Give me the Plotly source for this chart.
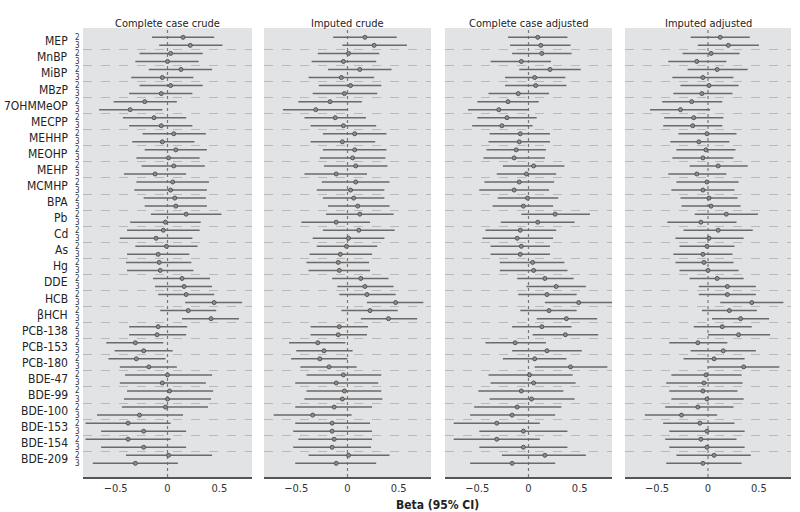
import plotly.graph_objects as go
from plotly.subplots import make_subplots

groups = ["MEP", "MnBP", "MiBP", "MBzP", "7OHMMeOP", "MECPP", "MEHHP", "MEOHP", "MEHP",
          "MCMHP", "BPA", "Pb", "Cd", "As", "Hg", "DDE", "HCB", "βHCH", "PCB-138",
          "PCB-153", "PCB-180", "BDE-47", "BDE-99", "BDE-100", "BDE-153", "BDE-154", "BDE-209"]
levels = ["2", "3"]
panel_titles = ["Complete case crude", "Imputed crude", "Complete case adjusted", "Imputed adjusted"]

est1 = [0.15,0.22, 0.03,0.00, 0.13,-0.05, 0.03,-0.06, -0.22,-0.36, -0.13,-0.06, 0.06,-0.05, 0.08,0.01, 0.06,-0.12, 0.05,0.03, 0.07,0.08, 0.18,-0.02, -0.04,-0.11, -0.01,-0.09, -0.08,-0.07, 0.14,0.16, 0.18,0.45, 0.20,0.42, -0.09,-0.10, -0.31,-0.23, -0.30,-0.18, 0.00,-0.05, 0.02,0.00, -0.02,-0.27, -0.38,-0.23, -0.38,-0.23, 0.01,-0.31]
lo1 = [-0.15,-0.08, -0.27,-0.31, -0.18,-0.35, -0.27,-0.37, -0.52,-0.66, -0.43,-0.37, -0.24,-0.34, -0.22,-0.30, -0.25,-0.42, -0.30,-0.32, -0.23,-0.22, -0.16,-0.36, -0.39,-0.46, -0.31,-0.39, -0.40,-0.39, -0.14,-0.12, -0.09,0.17, -0.07,0.14, -0.37,-0.37, -0.59,-0.51, -0.57,-0.46, -0.41,-0.46, -0.39,-0.42, -0.44,-0.68, -0.79,-0.64, -0.79,-0.64, -0.40,-0.72]
hi1 = [0.45,0.53, 0.34,0.30, 0.43,0.25, 0.34,0.24, 0.09,-0.05, 0.18,0.24, 0.37,0.26, 0.38,0.31, 0.36,0.18, 0.40,0.38, 0.37,0.38, 0.52,0.32, 0.31,0.24, 0.29,0.21, 0.23,0.25, 0.41,0.43, 0.45,0.72, 0.47,0.69, 0.19,0.18, -0.04,0.05, -0.02,0.09, 0.43,0.37, 0.44,0.42, 0.39,0.15, 0.03,0.18, 0.03,0.18, 0.43,0.10]

est2 = [0.17,0.26, 0.01,-0.04, 0.12,-0.06, 0.03,-0.03, -0.17,-0.31, -0.12,-0.04, 0.07,-0.05, 0.07,0.05, 0.08,-0.11, 0.08,0.03, 0.06,0.10, 0.12,-0.11, 0.11,0.01, -0.01,-0.07, -0.09,-0.08, 0.13,0.17, 0.19,0.47, 0.22,0.40, -0.08,-0.09, -0.29,-0.23, -0.27,-0.18, -0.04,-0.11, -0.03,-0.05, -0.13,-0.34, -0.15,-0.15, -0.13,-0.15, 0.01,-0.11]
lo2 = [-0.14,-0.05, -0.29,-0.35, -0.19,-0.38, -0.28,-0.34, -0.48,-0.63, -0.42,-0.36, -0.24,-0.36, -0.24,-0.27, -0.23,-0.42, -0.25,-0.30, -0.24,-0.19, -0.21,-0.45, -0.24,-0.34, -0.30,-0.37, -0.40,-0.38, -0.15,-0.10, -0.08,0.19, -0.06,0.13, -0.36,-0.36, -0.57,-0.50, -0.55,-0.46, -0.40,-0.51, -0.40,-0.42, -0.51,-0.72, -0.51,-0.53, -0.48,-0.53, -0.38,-0.51]
hi2 = [0.48,0.58, 0.31,0.28, 0.43,0.26, 0.33,0.29, 0.14,0.00, 0.18,0.28, 0.38,0.27, 0.38,0.37, 0.39,0.19, 0.41,0.36, 0.36,0.41, 0.45,0.22, 0.46,0.36, 0.29,0.24, 0.21,0.22, 0.40,0.45, 0.47,0.74, 0.49,0.68, 0.20,0.19, -0.02,0.05, 0.00,0.09, 0.33,0.30, 0.33,0.34, 0.24,0.04, 0.22,0.24, 0.24,0.23, 0.41,0.28]

est3 = [0.09,0.12, 0.13,-0.07, 0.21,0.06, 0.07,-0.10, -0.20,-0.29, -0.21,-0.26, -0.08,-0.09, -0.12,-0.14, 0.05,-0.02, -0.09,-0.14, -0.01,-0.05, 0.26,0.09, -0.08,-0.11, -0.07,-0.08, 0.04,0.05, 0.16,0.27, 0.18,0.49, 0.20,0.37, 0.13,0.36, -0.13,0.18, 0.06,0.41, 0.01,0.05, -0.07,0.03, -0.11,-0.16, -0.31,-0.05, -0.31,-0.05, 0.16,-0.16]
lo3 = [-0.20,-0.18, -0.16,-0.37, -0.09,-0.23, -0.23,-0.39, -0.50,-0.59, -0.50,-0.55, -0.38,-0.39, -0.41,-0.44, -0.25,-0.31, -0.43,-0.48, -0.30,-0.35, -0.07,-0.27, -0.42,-0.45, -0.37,-0.37, -0.28,-0.28, -0.11,-0.02, -0.10,0.16, -0.08,0.08, -0.16,0.04, -0.42,-0.16, -0.25,0.06, -0.39,-0.37, -0.49,-0.38, -0.53,-0.57, -0.73,-0.48, -0.73,-0.48, -0.26,-0.57]
hi3 = [0.38,0.41, 0.42,0.22, 0.51,0.36, 0.37,0.20, 0.10,0.00, 0.08,0.04, 0.21,0.21, 0.17,0.16, 0.35,0.27, 0.25,0.20, 0.29,0.24, 0.60,0.45, 0.27,0.24, 0.21,0.21, 0.35,0.38, 0.44,0.56, 0.47,0.83, 0.47,0.67, 0.42,0.68, 0.17,0.52, 0.37,0.77, 0.43,0.46, 0.34,0.45, 0.32,0.26, 0.11,0.38, 0.11,0.38, 0.56,0.26]

est4 = [0.12,0.20, 0.03,-0.11, 0.09,-0.05, 0.01,-0.06, -0.16,-0.27, -0.14,-0.15, -0.01,-0.09, -0.02,-0.05, 0.10,-0.11, -0.01,-0.05, 0.01,0.03, 0.18,-0.07, 0.10,0.01, -0.01,-0.05, -0.04,0.00, 0.09,0.19, 0.19,0.43, 0.21,0.32, 0.14,0.30, -0.10,0.15, 0.06,0.35, -0.02,-0.04, -0.05,-0.01, -0.10,-0.26, -0.08,-0.01, -0.07,-0.01, 0.06,-0.05]
lo4 = [-0.17,-0.10, -0.25,-0.39, -0.20,-0.35, -0.27,-0.34, -0.45,-0.57, -0.43,-0.44, -0.29,-0.37, -0.31,-0.35, -0.18,-0.39, -0.31,-0.36, -0.27,-0.26, -0.13,-0.40, -0.24,-0.32, -0.28,-0.34, -0.32,-0.28, -0.18,-0.09, -0.09,0.12, -0.06,0.04, -0.14,0.00, -0.38,-0.17, -0.24,0.00, -0.36,-0.41, -0.38,-0.36, -0.42,-0.62, -0.44,-0.38, -0.42,-0.38, -0.31,-0.41]
hi4 = [0.41,0.50, 0.31,0.18, 0.39,0.25, 0.30,0.24, 0.14,0.02, 0.15,0.14, 0.28,0.21, 0.27,0.25, 0.39,0.18, 0.30,0.26, 0.29,0.32, 0.49,0.28, 0.44,0.35, 0.26,0.24, 0.25,0.30, 0.35,0.47, 0.47,0.74, 0.48,0.60, 0.43,0.61, 0.19,0.47, 0.36,0.70, 0.33,0.34, 0.29,0.35, 0.25,0.09, 0.26,0.36, 0.28,0.36, 0.42,0.33]

xtick_vals = [-0.5, 0, 0.5]
xtick_text = ["\u22120.5", "0", "0.5"]

panels = [(est1, lo1, hi1), (est2, lo2, hi2), (est3, lo3, hi3), (est4, lo4, hi4)]
n_rows = len(groups) * len(levels)
rows = list(range(n_rows))

FONT = "DejaVu Sans Condensed, Liberation Sans Narrow, Roboto Condensed, Liberation Sans, sans-serif"
W, H = 800, 512
px_x = [(83, 252), (264, 431), (445, 612), (625, 791)]
y_top, y_bot = 28, 477

fig = make_subplots(rows=1, cols=4, shared_yaxes=True)

for k, (est, lo, hi) in enumerate(panels):
    fig.add_trace(go.Scatter(
        x=est, y=rows, mode="markers",
        marker=dict(size=4, color="#8c8c8c", line=dict(color="#555555", width=1)),
        error_x=dict(type="data", symmetric=False,
                     array=[h - e for h, e in zip(hi, est)],
                     arrayminus=[e - l for e, l in zip(est, lo)],
                     width=0, thickness=1.5, color="#6a6a6a"),
        showlegend=False, hoverinfo="skip"), row=1, col=k + 1)
    x0, x1 = px_x[k]
    fig.update_xaxes(domain=[x0 / W, x1 / W], range=[-0.815, 0.815],
                     tickvals=xtick_vals, ticktext=xtick_text,
                     showgrid=False, zeroline=False, showline=True,
                     linecolor="#555555", linewidth=1.5, ticks="",
                     tickfont=dict(size=11, color="#333333", family=FONT),
                     row=1, col=k + 1)
    fig.add_shape(type="line", xref=f"x{'' if k == 0 else k + 1}", yref="y domain",
                  x0=0, x1=0, y0=0, y1=1,
                  line=dict(color="#777777", width=1.2, dash="dot"), layer="below")
    fig.add_annotation(text=panel_titles[k], xref="paper", yref="paper",
                       x=(x0 + x1) / 2 / W, y=1 - 23 / H, showarrow=False,
                       font=dict(size=11, color="#222222", family=FONT),
                       xanchor="center", yanchor="middle")

sep_vals = [2 * i + 1.5 for i in range(len(groups) - 1)]
fig.update_yaxes(domain=[1 - y_bot / H, 1 - y_top / H], range=[n_rows + 0.7, -1.16],
                 tickvals=sep_vals, showticklabels=False, ticks="",
                 showgrid=True, gridcolor="#b9b9b9", gridwidth=1, griddash="dash",
                 zeroline=False, showline=False)

for g_i, g in enumerate(groups):
    fig.add_annotation(text=g, xref="paper", yref="y", x=70 / W, y=2 * g_i + 0.5,
                       showarrow=False, xanchor="right", yanchor="middle",
                       font=dict(size=12, color="#222222", family=FONT))
    for l_i, lv in enumerate(levels):
        fig.add_annotation(text=lv, xref="paper", yref="y", x=82 / W, y=2 * g_i + l_i,
                           showarrow=False, xanchor="right", yanchor="middle",
                           font=dict(size=8, color="#333333", family=FONT))

fig.add_annotation(text="<b>Beta (95% CI)</b>", xref="paper", yref="paper",
                   x=437 / W, y=1 - 505 / H, showarrow=False,
                   xanchor="center", yanchor="middle",
                   font=dict(size=12, color="#222222", family=FONT))

fig.update_layout(width=W, height=H, margin=dict(l=0, r=0, t=0, b=0),
                  plot_bgcolor="#e2e3e4", paper_bgcolor="white",
                  font=dict(family=FONT))

fig.write_html("out.html", config={"displayModeBar": False},
               post_script="document.body.style.margin='0';document.body.style.padding='0';")
